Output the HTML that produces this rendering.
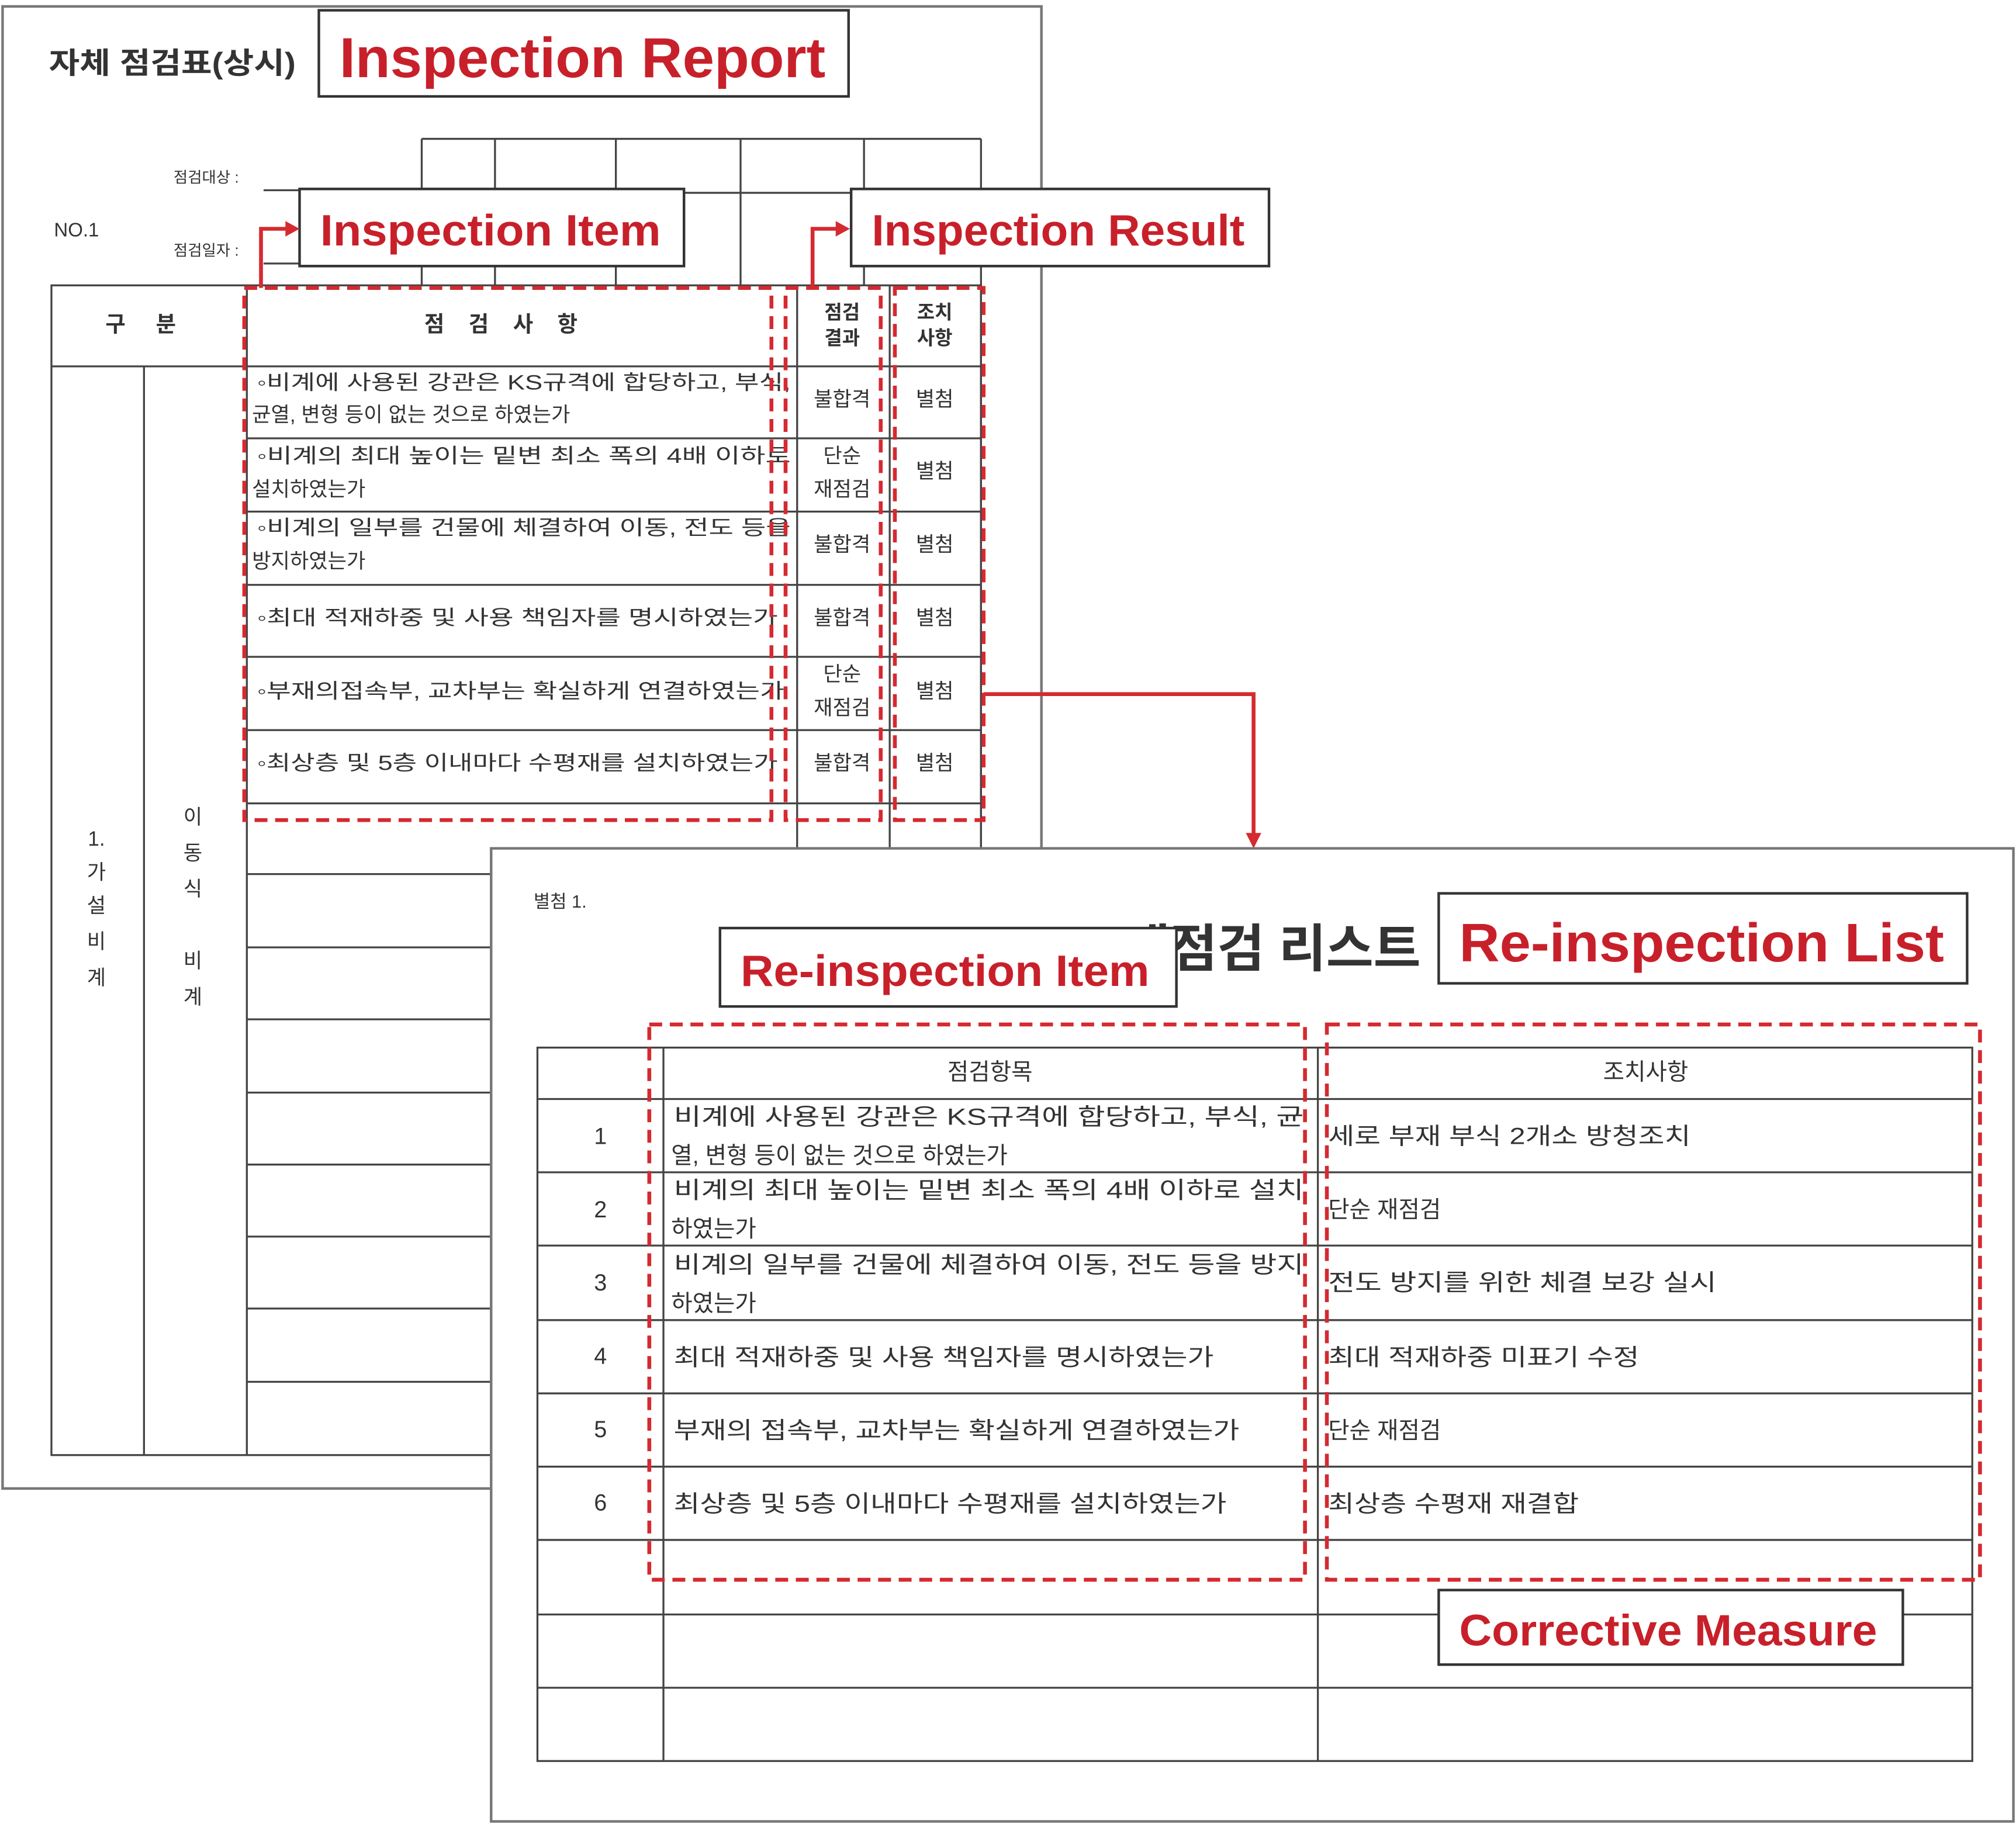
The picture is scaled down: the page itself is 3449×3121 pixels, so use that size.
<!DOCTYPE html>
<html><head><meta charset="utf-8"><style>
html,body{margin:0;padding:0;background:#fff;}
svg{display:block;}
.k{font-family:"Liberation Sans","Noto Sans CJK KR",sans-serif;fill:#333;}
.lbl{font-family:"Liberation Sans","Noto Sans CJK KR",sans-serif;font-weight:bold;fill:#c8202a;}
</style></head><body>
<svg width="3449" height="3121" viewBox="0 0 1568 1419" preserveAspectRatio="none" xmlns="http://www.w3.org/2000/svg">
<rect x="0" y="0" width="1568" height="1419" fill="#fff"/>
<!-- Page 1 -->
<rect x="2" y="5" width="808" height="1153" fill="#fff" stroke="#777" stroke-width="2"/>
<text x="38" y="57" class="k" font-size="23" font-weight="bold" fill="#222" textLength="192" lengthAdjust="spacingAndGlyphs">자체 점검표(상시)</text>
<text x="42" y="184" class="k" font-size="15">NO.1</text>
<text x="135" y="142" class="k" font-size="12">점검대상 :</text>
<text x="135" y="199" class="k" font-size="12">점검일자 :</text>
<g stroke="#444" stroke-width="1.5" fill="none">
<line x1="205" y1="148" x2="328" y2="148"/>
<line x1="205" y1="205" x2="328" y2="205"/>
<line x1="328" y1="108" x2="763" y2="108"/>
<line x1="385" y1="150" x2="763" y2="150"/>
<line x1="328" y1="108" x2="328" y2="222"/>
<line x1="385" y1="108" x2="385" y2="222"/>
<line x1="479" y1="108" x2="479" y2="222"/>
<line x1="576" y1="108" x2="576" y2="222"/>
<line x1="672" y1="108" x2="672" y2="222"/>
<line x1="763" y1="108" x2="763" y2="660"/>
<rect x="40" y="222" width="723" height="910"/>
<line x1="40" y1="285" x2="763" y2="285"/>
<line x1="112" y1="285" x2="112" y2="1132"/>
<line x1="192" y1="222" x2="192" y2="1132"/>
<line x1="620" y1="222" x2="620" y2="660"/>
<line x1="692" y1="222" x2="692" y2="660"/>
<line x1="192" y1="341" x2="763" y2="341"/>
<line x1="192" y1="398" x2="763" y2="398"/>
<line x1="192" y1="455" x2="763" y2="455"/>
<line x1="192" y1="511" x2="763" y2="511"/>
<line x1="192" y1="568" x2="763" y2="568"/>
<line x1="192" y1="625" x2="763" y2="625"/>
<line x1="192" y1="680" x2="382" y2="680"/>
<line x1="192" y1="737" x2="382" y2="737"/>
<line x1="192" y1="793" x2="382" y2="793"/>
<line x1="192" y1="850" x2="382" y2="850"/>
<line x1="192" y1="906" x2="382" y2="906"/>
<line x1="192" y1="962" x2="382" y2="962"/>
<line x1="192" y1="1018" x2="382" y2="1018"/>
<line x1="192" y1="1075" x2="382" y2="1075"/>
</g>
<text x="82" y="258" class="k" font-size="17" font-weight="bold">구&#160;&#160;&#160;&#160;&#160;분</text>
<text x="330" y="258" class="k" font-size="17" font-weight="bold">점&#160;&#160;&#160;&#160;검&#160;&#160;&#160;&#160;사&#160;&#160;&#160;&#160;항</text>
<text x="655" y="248" class="k" font-size="15" font-weight="bold" text-anchor="middle">점검</text>
<text x="655" y="268" class="k" font-size="15" font-weight="bold" text-anchor="middle">결과</text>
<text x="727" y="248" class="k" font-size="15" font-weight="bold" text-anchor="middle">조치</text>
<text x="727" y="268" class="k" font-size="15" font-weight="bold" text-anchor="middle">사항</text>
<g class="k" font-size="16">
<text x="200" y="303" textLength="415" lengthAdjust="spacingAndGlyphs">◦비계에 사용된 강관은 KS규격에 합당하고, 부식,</text>
<text x="196" y="328">균열, 변형 등이 없는 것으로 하였는가</text>
<text x="200" y="360" textLength="415" lengthAdjust="spacingAndGlyphs">◦비계의 최대 높이는 밑변 최소 폭의 4배 이하로</text>
<text x="196" y="386">설치하였는가</text>
<text x="200" y="416" textLength="415" lengthAdjust="spacingAndGlyphs">◦비계의 일부를 건물에 체결하여 이동, 전도 등을</text>
<text x="196" y="442">방지하였는가</text>
<text x="200" y="486" textLength="405" lengthAdjust="spacingAndGlyphs">◦최대 적재하중 및 사용 책임자를 명시하였는가</text>
<text x="200" y="543" textLength="410" lengthAdjust="spacingAndGlyphs">◦부재의접속부, 교차부는 확실하게 연결하였는가</text>
<text x="200" y="599" textLength="405" lengthAdjust="spacingAndGlyphs">◦최상층 및 5층 이내마다 수평재를 설치하였는가</text>
<text x="655" y="316" text-anchor="middle">불합격</text>
<text x="655" y="360" text-anchor="middle">단순</text>
<text x="655" y="386" text-anchor="middle">재점검</text>
<text x="655" y="429" text-anchor="middle">불합격</text>
<text x="655" y="486" text-anchor="middle">불합격</text>
<text x="655" y="530" text-anchor="middle">단순</text>
<text x="655" y="556" text-anchor="middle">재점검</text>
<text x="655" y="599" text-anchor="middle">불합격</text>
<text x="727" y="316" text-anchor="middle">별첨</text>
<text x="727" y="372" text-anchor="middle">별첨</text>
<text x="727" y="429" text-anchor="middle">별첨</text>
<text x="727" y="486" text-anchor="middle">별첨</text>
<text x="727" y="543" text-anchor="middle">별첨</text>
<text x="727" y="599" text-anchor="middle">별첨</text>
</g>
<g class="k" font-size="16" text-anchor="middle">
<text x="75" y="658">1.</text><text x="75" y="684">가</text><text x="75" y="710">설</text><text x="75" y="738">비</text><text x="75" y="766">계</text>
<text x="150" y="641">이</text><text x="150" y="669">동</text><text x="150" y="697">식</text><text x="150" y="753">비</text><text x="150" y="781">계</text>
</g>
<g stroke="#d42a30" stroke-width="3" stroke-dasharray="10,6" fill="none">
<rect x="190" y="224" width="410" height="414"/>
<rect x="611" y="224" width="74" height="414"/>
<rect x="696" y="224" width="69" height="414"/>
</g>
<rect x="248" y="8" width="412" height="67" fill="#fff" stroke="#333" stroke-width="2"/>
<text x="264" y="60" class="lbl" font-size="44" textLength="378" lengthAdjust="spacingAndGlyphs">Inspection Report</text>
<rect x="233" y="147" width="299" height="60" fill="#fff" stroke="#333" stroke-width="2"/>
<text x="249" y="191" class="lbl" font-size="34" textLength="265" lengthAdjust="spacingAndGlyphs">Inspection Item</text>
<rect x="662" y="147" width="325" height="60" fill="#fff" stroke="#333" stroke-width="2"/>
<text x="678" y="191" class="lbl" font-size="34" textLength="290" lengthAdjust="spacingAndGlyphs">Inspection Result</text>
<g stroke="#d42a30" stroke-width="3" fill="none">
<polyline points="203,224 203,178 224,178"/>
<polyline points="632,224 632,178 652,178"/>
<polyline points="765,540 975,540 975,650"/>
<polyline points="527,797 527,752 550,752"/>
<polyline points="1087,1229 1087,1268 1108,1268"/>
</g>
<g fill="#d42a30">
<polygon points="233,178 222,172 222,184"/>
<polygon points="661,178 650,172 650,184"/>
<polygon points="975,660 969,648 981,648"/>
<polygon points="560,752 549,746 549,758"/>
<polygon points="1118,1268 1107,1262 1107,1274"/>
</g>
<!-- Page 2 -->
<rect x="382" y="660" width="1184" height="757" fill="#fff" stroke="#777" stroke-width="2"/>
<text x="415" y="706" class="k" font-size="14" fill="#555">별첨 1.</text>
<text x="1105" y="752" class="k" font-size="40" font-weight="bold" fill="#222" text-anchor="end">재점검 리스트</text>
<g stroke="#444" stroke-width="1.5" fill="none">
<rect x="418" y="815" width="1116" height="555"/>
<line x1="516" y1="815" x2="516" y2="1370"/>
<line x1="1025" y1="815" x2="1025" y2="1370"/>
<line x1="418" y1="855" x2="1534" y2="855"/>
<line x1="418" y1="912" x2="1534" y2="912"/>
<line x1="418" y1="969" x2="1534" y2="969"/>
<line x1="418" y1="1027" x2="1534" y2="1027"/>
<line x1="418" y1="1084" x2="1534" y2="1084"/>
<line x1="418" y1="1141" x2="1534" y2="1141"/>
<line x1="418" y1="1198" x2="1534" y2="1198"/>
<line x1="418" y1="1256" x2="1534" y2="1256"/>
<line x1="418" y1="1313" x2="1534" y2="1313"/>
</g>
<g class="k" font-size="18">
<text x="770" y="840" text-anchor="middle">점검항목</text>
<text x="1280" y="840" text-anchor="middle">조치사항</text>
<text x="467" y="890" text-anchor="middle">1</text>
<text x="467" y="947" text-anchor="middle">2</text>
<text x="467" y="1004" text-anchor="middle">3</text>
<text x="467" y="1061" text-anchor="middle">4</text>
<text x="467" y="1118" text-anchor="middle">5</text>
<text x="467" y="1175" text-anchor="middle">6</text>
<text x="524" y="875" textLength="490" lengthAdjust="spacingAndGlyphs">비계에 사용된 강관은 KS규격에 합당하고, 부식, 균</text>
<text x="522" y="905">열, 변형 등이 없는 것으로 하였는가</text>
<text x="524" y="932" textLength="490" lengthAdjust="spacingAndGlyphs">비계의 최대 높이는 밑변 최소 폭의 4배 이하로 설치</text>
<text x="522" y="962">하였는가</text>
<text x="524" y="990" textLength="490" lengthAdjust="spacingAndGlyphs">비계의 일부를 건물에 체결하여 이동, 전도 등을 방지</text>
<text x="522" y="1020">하였는가</text>
<text x="524" y="1062" textLength="420" lengthAdjust="spacingAndGlyphs">최대 적재하중 및 사용 책임자를 명시하였는가</text>
<text x="524" y="1119" textLength="440" lengthAdjust="spacingAndGlyphs">부재의 접속부, 교차부는 확실하게 연결하였는가</text>
<text x="524" y="1176" textLength="430" lengthAdjust="spacingAndGlyphs">최상층 및 5층 이내마다 수평재를 설치하였는가</text>
<text x="1033" y="890" textLength="282" lengthAdjust="spacingAndGlyphs">세로 부재 부식 2개소 방청조치</text>
<text x="1033" y="947">단순 재점검</text>
<text x="1033" y="1004" textLength="302" lengthAdjust="spacingAndGlyphs">전도 방지를 위한 체결 보강 실시</text>
<text x="1033" y="1062" textLength="242" lengthAdjust="spacingAndGlyphs">최대 적재하중 미표기 수정</text>
<text x="1033" y="1119">단순 재점검</text>
<text x="1033" y="1176" textLength="195" lengthAdjust="spacingAndGlyphs">최상층 수평재 재결합</text>
</g>
<g stroke="#d42a30" stroke-width="3" stroke-dasharray="10,6" fill="none">
<rect x="505" y="797" width="510" height="432"/>
<rect x="1032" y="797" width="508" height="432"/>
</g>
<rect x="560" y="722" width="355" height="61" fill="#fff" stroke="#333" stroke-width="2"/>
<text x="576" y="767" class="lbl" font-size="34" textLength="318" lengthAdjust="spacingAndGlyphs">Re-inspection Item</text>
<rect x="1119" y="695" width="411" height="70" fill="#fff" stroke="#333" stroke-width="2"/>
<text x="1135" y="748" class="lbl" font-size="42" textLength="377" lengthAdjust="spacingAndGlyphs">Re-inspection List</text>
<rect x="1119" y="1237" width="361" height="58" fill="#fff" stroke="#333" stroke-width="2"/>
<text x="1135" y="1280" class="lbl" font-size="34" textLength="325" lengthAdjust="spacingAndGlyphs">Corrective Measure</text>
</svg>
</body></html>
